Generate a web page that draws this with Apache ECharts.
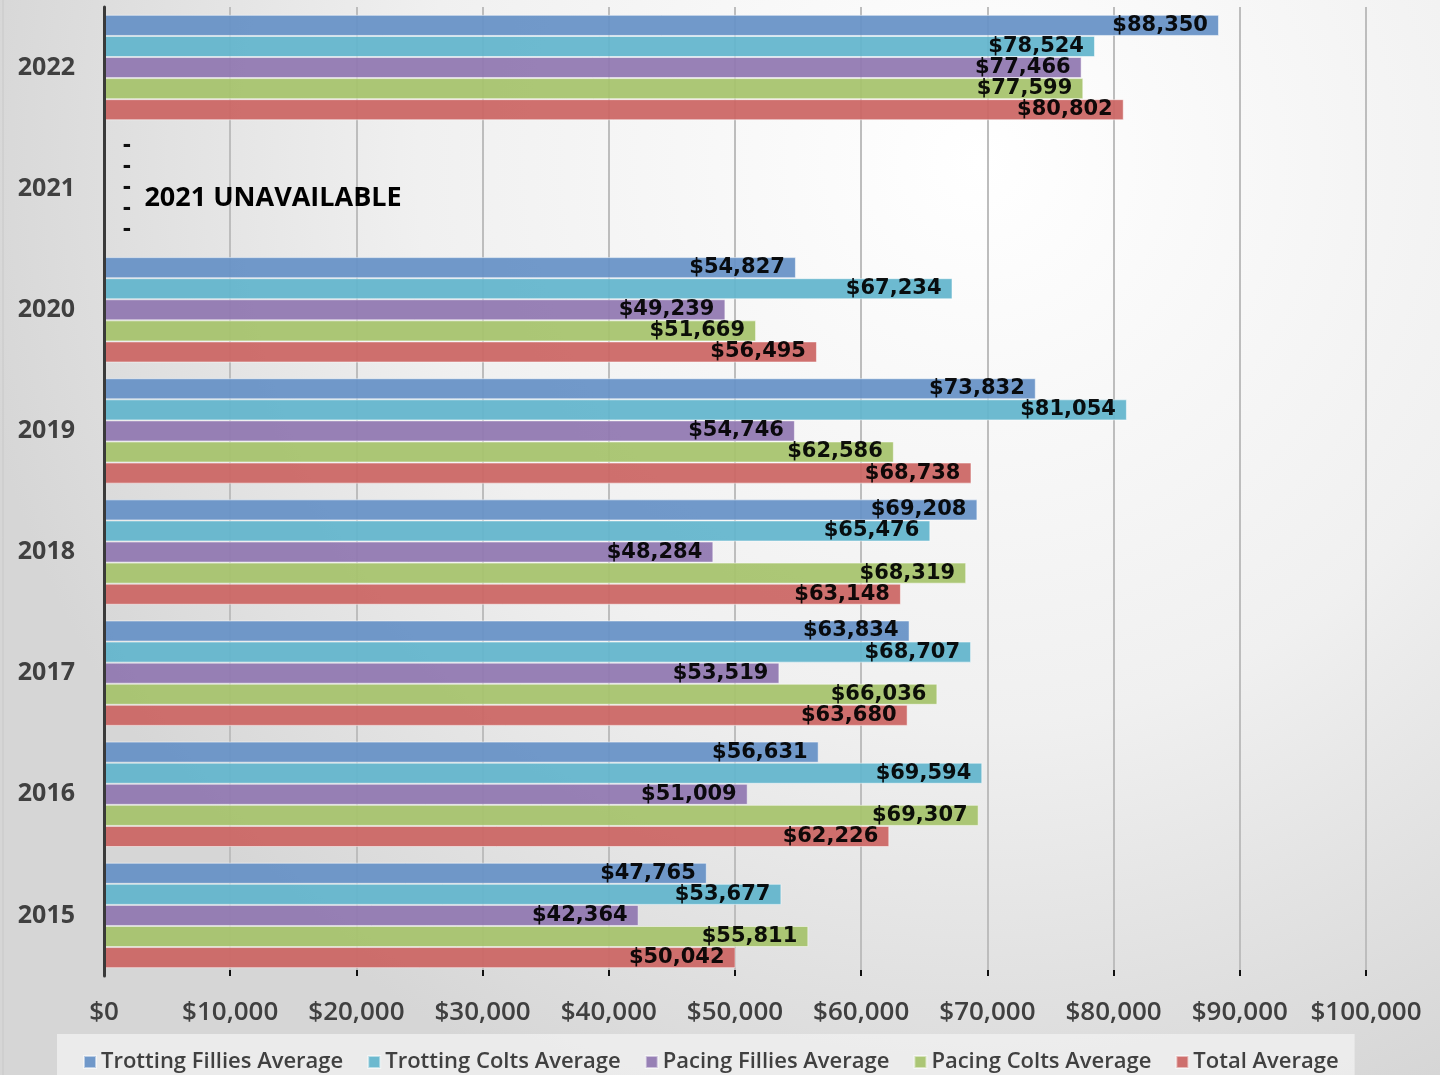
<!DOCTYPE html>
<html>
<head>
<meta charset="utf-8">
<script src="https://cdn.jsdelivr.net/npm/echarts@6/dist/echarts.min.js"></script>
<style>
  html, body { margin: 0; padding: 0; }
  #chart { width: 1440px; height: 1075px; }
</style>
</head>
<body>
<div id="chart"></div>
<script>
var years = ['2015', '2016', '2017', '2018', '2019', '2020', '2021', '2022'];
var xTicks = [0, 10000, 20000, 30000, 40000, 50000, 60000, 70000, 80000, 90000, 100000];

var seriesNames = ['Trotting Fillies Average', 'Trotting Colts Average', 'Pacing Fillies Average', 'Pacing Colts Average', 'Total Average'];
var trottingFillies = [47765, 56631, 63834, 69208, 73832, 54827, 0, 88350];
var trottingColts   = [53677, 69594, 68707, 65476, 81054, 67234, 0, 78524];
var pacingFillies   = [42364, 51009, 53519, 48284, 54746, 49239, 0, 77466];
var pacingColts     = [55811, 69307, 66036, 68319, 62586, 51669, 0, 77599];
var totalAvg        = [50042, 62226, 63680, 63148, 68738, 56495, 0, 80802];
var note = '2021 UNAVAILABLE';

var colors = ['#6691c6', '#62b5cc', '#9077b0', '#a6c36c', '#cb6563'];
var allData = [trottingFillies, trottingColts, pacingFillies, pacingColts, totalAvg];

function money(v) {
	return '$' + v.toLocaleString('en-US');
}

var chart = echarts.init(document.getElementById('chart'));

var series = allData.map(function (arr, i) {
	return {
		name: seriesNames[i],
		type: 'bar',
		barGap: '0%',
		barCategoryGap: '13%',
		itemStyle: {
			color: colors[i],
			opacity: 0.93,
			borderColor: 'rgba(255,255,255,0.55)',
			borderWidth: 1
		},
		label: {
			show: true,
			position: 'insideRight',
			distance: 11,
			color: '#000',
			fontFamily: 'DejaVu Sans',
			fontWeight: 'bold',
			fontSize: 21,
			formatter: function (p) {
				return p.value ? money(p.value) : '-';
			}
		},
		data: arr.map(function (v) {
			if (v === 0) {
				// 2021 has no numbers, just a dash next to the axis
				return { value: v, label: { position: 'right', distance: 18 } };
			}
			return v;
		})
	};
});

chart.setOption({
	backgroundColor: new echarts.graphic.RadialGradient(0.68, 0.15, 0.95, [
		{ offset: 0, color: '#ffffff' },
		{ offset: 0.55, color: '#f0f0f0' },
		{ offset: 1, color: '#d6d6d6' }
	]),
	animation: false,
	grid: {
		left: 104,
		right: 74,
		top: 7,
		bottom: 99,
		outerBoundsMode: 'none'
	},
	legend: {
		bottom: 0,
		left: 57,
		itemWidth: 12,
		itemHeight: 12,
		itemGap: 24,
		icon: 'rect',
		backgroundColor: 'rgba(240,240,240,0.8)',
		padding: [17, 16, 2, 26],
		data: seriesNames,
		textStyle: {
			fontFamily: 'Open Sans',
			fontWeight: 600,
			fontSize: 22,
			color: '#404040'
		}
	},
	xAxis: {
		type: 'value',
		min: 0,
		max: 100000,
		interval: 10000,
		axisLine: { show: false },
		axisTick: {
			show: true,
			inside: true,
			length: 6,
			lineStyle: { color: '#111', width: 2 }
		},
		splitLine: {
			show: true,
			lineStyle: { color: '#bdbdbd', width: 2 }
		},
		axisLabel: {
			margin: 24,
			fontFamily: 'Open Sans',
			fontWeight: 600,
			fontSize: 26,
			color: '#404040',
			customValues: xTicks,
			formatter: function (v) { return money(v); }
		}
	},
	yAxis: {
		type: 'category',
		data: years,
		z: 5,
		axisLine: {
			show: true,
			lineStyle: { color: '#3a3a3a', width: 3 }
		},
		axisTick: { show: false },
		axisLabel: {
			margin: 29,
			fontFamily: 'Open Sans',
			fontWeight: 'bold',
			fontSize: 25,
			color: '#404040'
		}
	},
	series: series
});

// note for the missing year, placed through the axes
var pos = chart.convertToPixel({ xAxisIndex: 0, yAxisIndex: 0 }, [3200, '2021']);
chart.setOption({
	graphic: [
		{
			type: 'text',
			x: pos[0],
			y: pos[1] + 10,
			style: {
				text: note,
				fill: '#000',
				font: 'bold 27px "Open Sans"',
				textVerticalAlign: 'middle'
			}
		},
		{
			type: 'line',
			shape: { x1: 3, y1: 0, x2: 3, y2: 1075 },
			style: { stroke: '#c8c8c8', lineWidth: 1 }
		}
	]
});
</script>
</body>
</html>
